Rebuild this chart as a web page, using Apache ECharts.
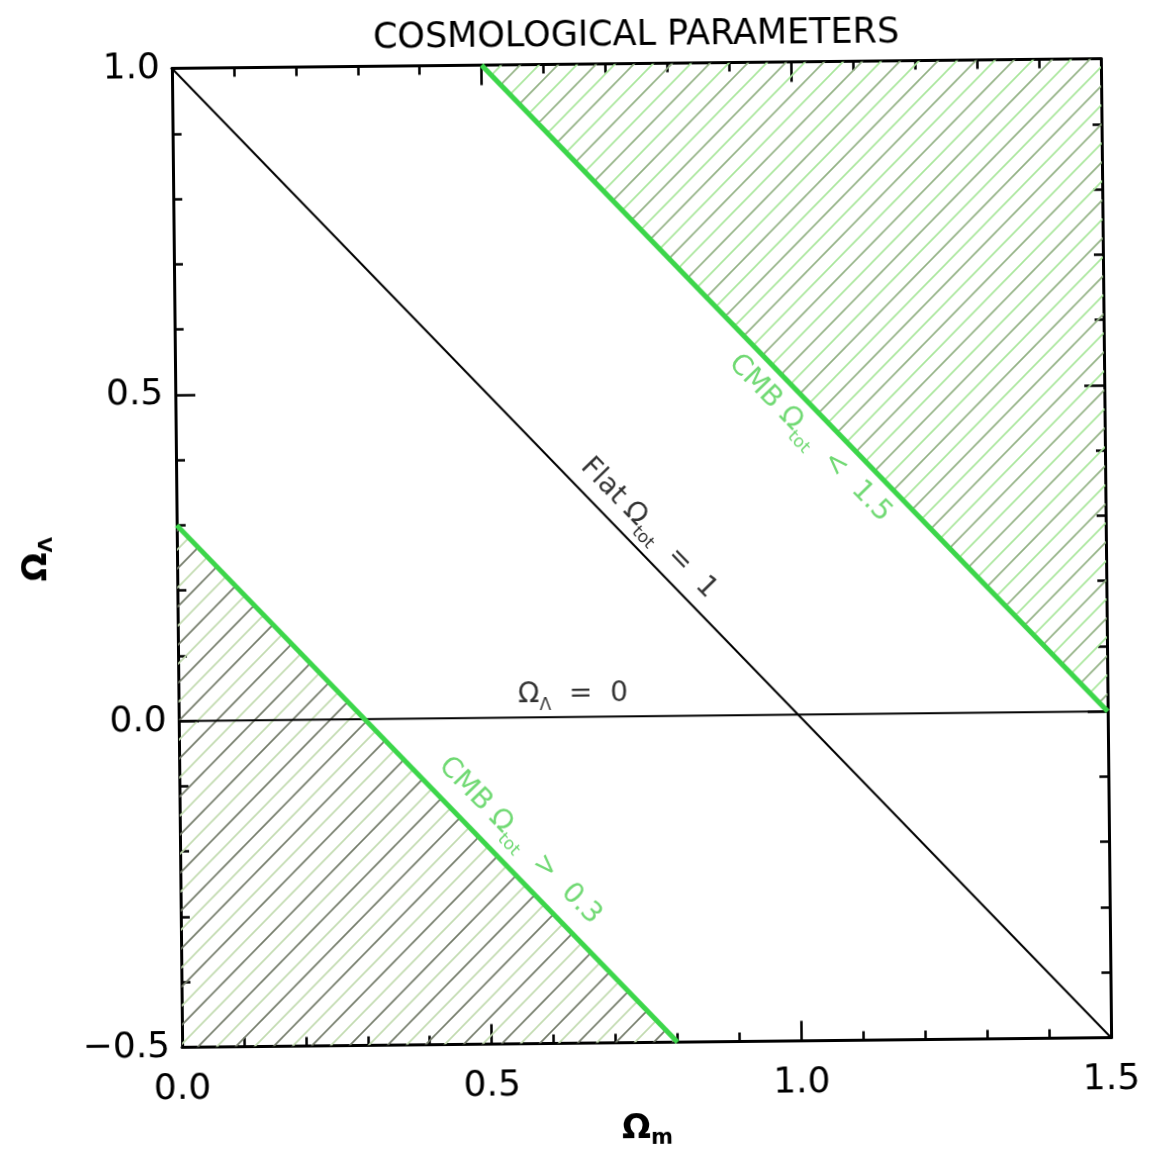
<!DOCTYPE html>
<html>
<head>
<meta charset="utf-8">
<script src="https://cdn.jsdelivr.net/npm/echarts@6/dist/echarts.min.js"></script>
<style>
  html, body { margin: 0; padding: 0; background: #fff; overflow: hidden; }
  #chart { position: absolute; left: 0; top: 0; width: 1151px; height: 1162px;
           transform-origin: 641.5px 553px; transform: rotate(-0.6deg); }
</style>
</head>
<body>
<div id="chart"></div>
<script>
// ---- data ----
const titleText = 'COSMOLOGICAL PARAMETERS';
const xRange = [0, 1.5];
const yRange = [-0.5, 1.0];
const majorStep = 0.5;
const flatLine = [[0, 1.0], [1.5, -0.5]];          // Omega_m + Omega_L = 1
const zeroLambdaLine = [[0, 0.0], [1.5, 0.0]];     // Omega_L = 0
const cmbLowLine = [[0, 0.3], [0.8, -0.5]];        // Omega_tot = 0.3
const cmbHighLine = [[0.5, 1.0], [1.5, 0.0]];      // Omega_tot = 1.5
const labelFlat = [0.762, 0.288];
const labelZero = [0.637, 0.034];
const labelCmbHigh = [1.024, 0.423];
const labelCmbLow = [0.549, -0.189];

// ---- styles ----
const FONT = 'DejaVu Sans';
const GREEN = '#3cd64a';
const GREEN_TXT = '#4ccf50';
const ANGLE = -46.5;

function hatch(dark, light) {
  const P = 38;
  const c = document.createElement('canvas');
  c.width = P; c.height = P;
  const g = c.getContext('2d');
  g.lineWidth = 1.7;
  [0, P / 2, P, 1.5 * P, 2 * P].forEach(function (k) {
    g.strokeStyle = (Math.round(k / (P / 2)) % 2 === 1) ? dark : light;
    g.beginPath();
    g.moveTo(k + 3, -3);
    g.lineTo(-3, k + 3);
    g.stroke();
  });
  return { image: c, repeat: 'repeat' };
}

const fmt = function (v) { return v.toFixed(1).replace('-', '\u2212'); };

const richAnn = function (color) {
  return {
    a: { fontFamily: FONT, fontSize: 28, color: color, verticalAlign: 'middle' },
    s: { fontFamily: FONT, fontSize: 17, color: color, verticalAlign: 'middle', padding: [22, 0, 0, 0] }
  };
};

function annotation(pos, text, color, rotate) {
  return {
    type: 'scatter', data: [pos], symbolSize: 0, silent: true, z: 10,
    label: { show: true, position: 'inside', rotate: rotate, formatter: text,
             rich: richAnn(color) }
  };
}

const axisCommon = {
  type: 'value', min: xRange[0], max: xRange[1], interval: majorStep,
  splitLine: { show: false },
  axisLine: { show: true, onZero: false, lineStyle: { color: '#000', width: 3 } },
  axisTick: { show: true, inside: true, length: 20, lineStyle: { color: '#000', width: 2.5 } },
  minorTick: { show: true, splitNumber: 5, length: 9, lineStyle: { color: '#000', width: 2.5 } }
};

const chart = echarts.init(document.getElementById('chart'), null, { renderer: 'canvas' });
chart.setOption({
  animation: false,
  backgroundColor: '#fff',
  grid: { left: 177, right: 45, top: 63.5, bottom: 119.5 },
  graphic: [{
    type: 'text', x: 641.5, y: 36,
    style: { text: titleText, font: '35px "DejaVu Sans"', fill: '#000',
             align: 'center', verticalAlign: 'middle' }
  }],
  xAxis: [
    Object.assign({}, axisCommon, {
      position: 'bottom',
      axisLabel: { margin: 24, fontFamily: FONT, fontSize: 36, color: '#000', formatter: fmt },
      name: '{a|\u03A9}{s|m}', nameLocation: 'middle', nameGap: 66,
      nameTextStyle: { rich: {
        a: { fontFamily: FONT, fontSize: 34, fontWeight: 'bold', color: '#000', verticalAlign: 'middle' },
        s: { fontFamily: FONT, fontSize: 21, fontWeight: 'bold', color: '#000', verticalAlign: 'middle', padding: [20, 0, 0, 0] }
      } }
    }),
    Object.assign({}, axisCommon, { position: 'top', axisLabel: { show: false } })
  ],
  yAxis: [
    Object.assign({}, axisCommon, {
      min: yRange[0], max: yRange[1], position: 'left',
      axisLabel: { margin: 12, fontFamily: FONT, fontSize: 36, color: '#000', formatter: fmt },
      name: '{a|\u03A9}{s|\u039B}', nameLocation: 'middle', nameGap: 120, nameRotate: 90,
      nameTextStyle: { rich: {
        a: { fontFamily: FONT, fontSize: 34, fontWeight: 'bold', color: '#000', verticalAlign: 'middle' },
        s: { fontFamily: FONT, fontSize: 20, fontWeight: 'bold', color: '#000', verticalAlign: 'middle', padding: [20, 0, 0, 0] }
      } }
    }),
    Object.assign({}, axisCommon, { min: yRange[0], max: yRange[1], position: 'right', axisLabel: { show: false } })
  ],
  series: [
    { type: 'line', data: cmbLowLine, showSymbol: false, silent: true, z: 1,
      lineStyle: { width: 0 },
      areaStyle: { origin: 'start', opacity: 1, color: hatch('#747c6a', '#c2dbb0') } },
    { type: 'line', data: cmbHighLine, showSymbol: false, silent: true, z: 1,
      lineStyle: { width: 0 },
      areaStyle: { origin: 'end', opacity: 1, color: hatch('#93b285', '#a9e69c') } },
    { type: 'line', data: flatLine, showSymbol: false, silent: true, z: 2,
      lineStyle: { color: '#000', width: 2 } },
    { type: 'line', data: zeroLambdaLine, showSymbol: false, silent: true, z: 2,
      lineStyle: { color: '#000', width: 2 } },
    { type: 'line', data: cmbLowLine, showSymbol: false, silent: true, z: 3,
      lineStyle: { color: GREEN, width: 5 } },
    { type: 'line', data: cmbHighLine, showSymbol: false, silent: true, z: 3,
      lineStyle: { color: GREEN, width: 5 } },
    annotation(labelFlat, '{a|Flat \u03A9}{s|tot}{a|  =  1}', '#000', ANGLE),
    annotation(labelZero, '{a|\u03A9}{s|\u039B}{a|  =  0}', '#000', 0),
    annotation(labelCmbHigh, '{a|CMB \u03A9}{s|tot}{a|  <  1.5}', GREEN_TXT, ANGLE),
    annotation(labelCmbLow, '{a|CMB \u03A9}{s|tot}{a|  >  0.3}', GREEN_TXT, ANGLE)
  ]
});
</script>
</body>
</html>
